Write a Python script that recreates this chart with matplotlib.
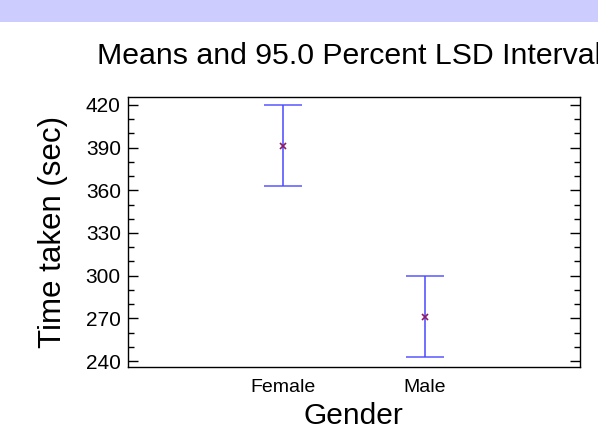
import matplotlib
matplotlib.use("Agg")
import matplotlib.pyplot as plt
from matplotlib.patches import Rectangle
from matplotlib.ticker import MultipleLocator

plt.rcParams['font.family'] = ['Liberation Sans', 'DejaVu Sans']

# data
groups = ["Female", "Male"]
means = [391.5, 271.0]
half_lsd = [28.5, 28.5]
y_ticks = [240, 270, 300, 330, 360, 390, 420]

col_band = "#ccccff"
col_bar = "#4a4aff"
col_mark = "#8b1a6b"

fig = plt.figure(figsize=(5.98, 4.34), dpi=100)

# lavender band along the top
fig.patches.append(Rectangle((0, 1 - 22 / 434), 1, 22 / 434, transform=fig.transFigure,
                             facecolor=col_band, edgecolor="none", zorder=0))

ax = fig.add_axes([127.7 / 598, 1 - 367 / 434, (580 - 127.7) / 598, (367 - 97) / 434])

xs = list(range(1, len(groups) + 1))
ax.errorbar(xs, means, yerr=half_lsd, fmt="none", ecolor=col_bar, elinewidth=1.3,
            capsize=14, capthick=1.2, alpha=0.85)
ax.plot(xs, means, linestyle="none", marker="x", ms=4, mew=1.2, color=col_mark)

ax.set_xlim(-0.1, 3.1)
ax.set_ylim(235.8, 425.6)
ax.set_xticks(xs)
ax.set_xticklabels(groups, fontsize=14)
ax.tick_params(axis="x", length=0, pad=9)
ax.set_yticks(y_ticks)
ax.yaxis.set_minor_locator(MultipleLocator(10))
ax.tick_params(axis="y", which="major", direction="in", length=7, width=1,
               left=True, right=True, labelsize=15, pad=5)
ax.tick_params(axis="y", which="minor", direction="in", length=4, width=1,
               left=True, right=True)
for side in ["bottom", "top", "left", "right"]:
    ax.spines[side].set_color("black")
    ax.spines[side].set_linewidth(1)

ax.set_xlabel("Gender", fontsize=21.5, labelpad=4)
ax.set_ylabel("Time taken (sec)", fontsize=22.5, labelpad=13)

# the title runs past the right edge in the reference as well
fig.text(97 / 598, 1 - 64 / 434, "Means and 95.0 Percent LSD Intervals", fontsize=21.8,
         ha="left", va="baseline")

fig.savefig("out.png", dpi=100)
plt.close("all")
